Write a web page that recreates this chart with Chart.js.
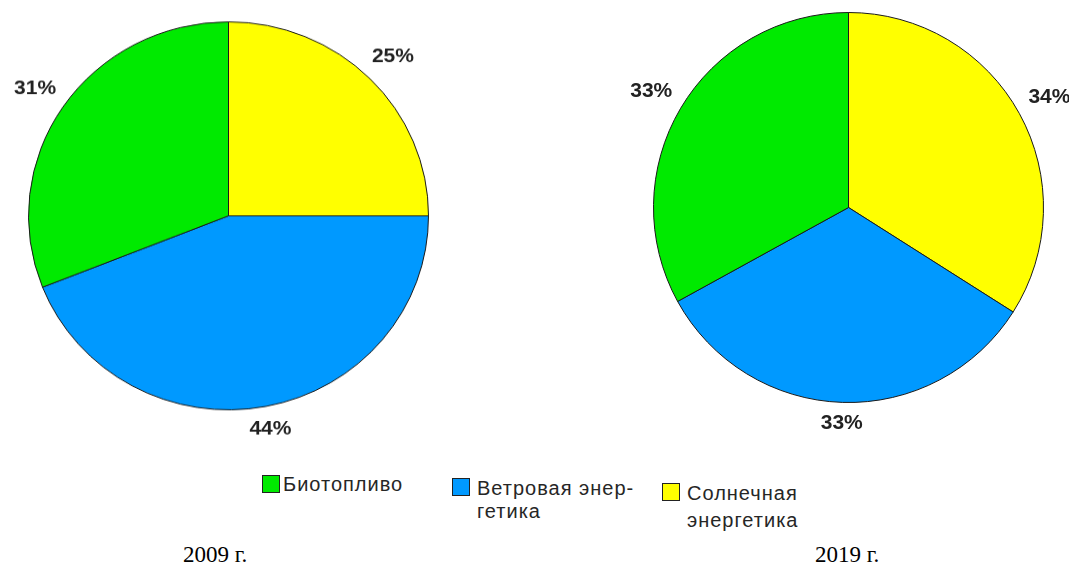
<!DOCTYPE html>
<html>
<head>
<meta charset="utf-8">
<script src="https://cdn.jsdelivr.net/npm/chart.js@4"></script>
<style>
  html, body { margin: 0; padding: 0; background: #fff; width: 1069px; height: 566px; overflow: hidden; }
  canvas { position: absolute; }
  .key { position: absolute; width: 16px; height: 16px; border: 1px solid #222; }
  .txt { position: absolute; font-family: "Liberation Sans", Arial, sans-serif; font-size: 20px; color: #262626; letter-spacing: 1px; white-space: nowrap; }
  .year { position: absolute; font-family: "Liberation Serif", "Times New Roman", serif; font-size: 23px; line-height: 1; color: #000; }
</style>
</head>
<body>
<!-- the 2009 pie is a little flattened in the original -->
<canvas id="pie2009" width="470" height="470" style="left:0;top:0;transform:scaleY(0.97);transform-origin:0 0"></canvas>
<canvas id="pie2019" width="469" height="470" style="left:600px;top:0"></canvas>
<div id="legend"></div>
<div class="year" style="left:183px;top:543px" id="y0"></div>
<div class="year" style="left:815px;top:543px" id="y1"></div>
<script>
// legend order
const categories = ['Биотопливо', 'Ветровая энергетика', 'Солнечная энергетика'];
const legendLines = [['Биотопливо'], ['Ветровая энер-', 'гетика'], ['Солнечная', 'энергетика']];
const colors = ['#00EA00', '#0099FF', '#FFFF00'];
const values2009 = [31, 44, 25];
const values2019 = [33, 33, 34];
const years = ['2009 г.', '2019 г.'];

// percent labels outside the slices
const outsideLabels = {
    id: 'outsideLabels',
    afterDatasetsDraw(chart) {
        const ctx = chart.ctx;
        const meta = chart.getDatasetMeta(0);
        const data = chart.data.datasets[0].data;
        ctx.save();
        ctx.font = 'bold 21px "Liberation Sans", Arial, sans-serif';
        ctx.fillStyle = '#222';
        ctx.textAlign = 'center';
        ctx.textBaseline = 'middle';
        meta.data.forEach((arc, i) => {
            const p = arc.getProps(['x', 'y', 'startAngle', 'endAngle', 'outerRadius'], true);
            const mid = (p.startAngle + p.endAngle) / 2;
            const ux = Math.cos(mid), uy = Math.sin(mid);
            const txt = data[i] + '%';
            const w = ctx.measureText(txt).width;
            const ext = Math.abs(ux) * w / 2 + Math.abs(uy) * 8;
            const d = p.outerRadius + 12 + ext;
            ctx.fillText(txt, p.x + ux * d, p.y + uy * d);
        });
        ctx.restore();
    }
};

function drawPie(id, values, padding) {
    // clockwise from the top: солнечная, ветровая, биотопливо
    new Chart(document.getElementById(id), {
        type: 'pie',
        data: {
            labels: categories.slice().reverse(),
            datasets: [{
                data: values.slice().reverse(),
                backgroundColor: colors.slice().reverse(),
                borderColor: '#1a1a1a',
                borderWidth: 1
            }]
        },
        options: {
            responsive: false,
            animation: false,
            layout: { padding: padding },
            plugins: { legend: { display: false }, tooltip: { enabled: false } }
        },
        plugins: [outsideLabels]
    });
}

drawPie('pie2009', values2009, { left: 28, right: 41, top: 22, bottom: 47 });
drawPie('pie2019', values2019, { left: 53, right: 25, top: 12, bottom: 67 });

// legend
const legendPos = [
    { kx: 262, ky: 475, tx: 283, ty: 473, lh: 23 },
    { kx: 452, ky: 478, tx: 477, ty: 477, lh: 23 },
    { kx: 662, ky: 483, tx: 687, ty: 480, lh: 27 }
];
const legend = document.getElementById('legend');
legendLines.forEach((lines, i) => {
    const p = legendPos[i];
    const key = document.createElement('div');
    key.className = 'key';
    key.style.left = p.kx + 'px';
    key.style.top = p.ky + 'px';
    key.style.background = colors[i];
    legend.appendChild(key);
    const t = document.createElement('div');
    t.className = 'txt';
    t.style.left = p.tx + 'px';
    t.style.top = p.ty + 'px';
    t.style.lineHeight = p.lh + 'px';
    t.innerHTML = lines.join('<br>');
    legend.appendChild(t);
});

document.getElementById('y0').textContent = years[0];
document.getElementById('y1').textContent = years[1];
</script>
</body>
</html>
